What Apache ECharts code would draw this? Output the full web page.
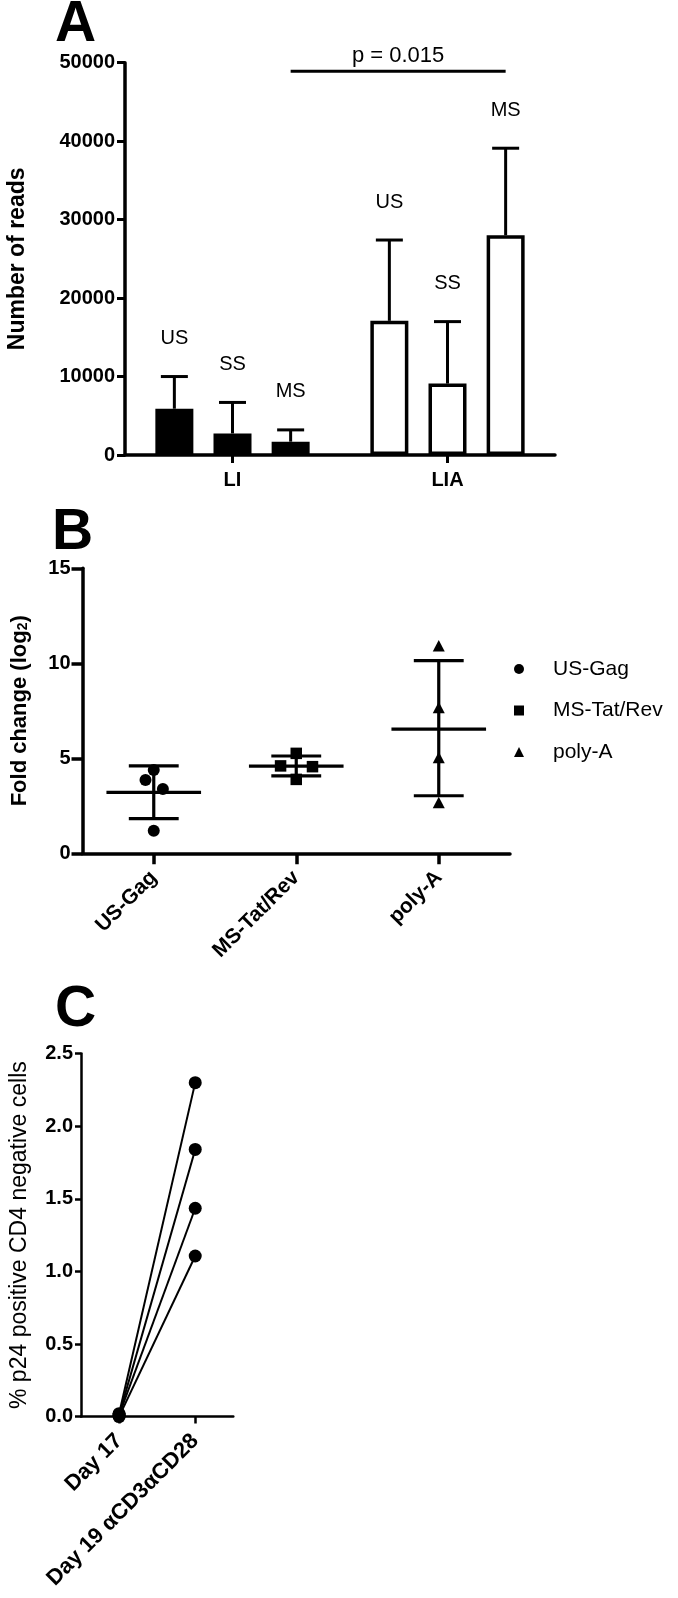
<!DOCTYPE html>
<html>
<head>
<meta charset="utf-8">
<script src="https://cdn.jsdelivr.net/npm/echarts@6/dist/echarts.min.js"></script>
<style>
html,body{margin:0;padding:0;background:#fff;}
#chart{width:678px;height:1598px;}
</style>
</head>
<body>
<div id="chart"></div>
<script>
// ---------- Panel A data ----------
const readsCategories = ['LI', 'LIA'];
const readsSubtypes = ['US', 'SS', 'MS'];
const readsUS = [5900, 17100];
const readsSS = [2750, 9100];
const readsMS = [1700, 28000];
const readsUSErrTop = [10000, 27400];
const readsSSErrTop = [6700, 17000];
const readsMSErrTop = [3200, 39100];
const readsTicks = [0, 10000, 20000, 30000, 40000, 50000];
const pValueText = 'p = 0.015';
const pValueLevel = 48900;
const pValuePair = ['LI', 'LIA'];
const pValueSubtype = 'MS';

// ---------- Panel B data ----------
const foldCategories = ['US-Gag', 'MS-Tat/Rev', 'poly-A'];
const foldUSGag = [4.39, 3.86, 3.38, 1.19];
const foldMSTatRev = [5.26, 4.60, 4.56, 3.89];
const foldPolyA = [10.88, 7.63, 5.00, 2.63];
const foldUSGagJitter = [0, -0.058, 0.064, 0];
const foldMSTatRevJitter = [0, -0.11, 0.114, 0];
const foldPolyAJitter = [0, 0, 0, 0];
const foldMean = [3.21, 4.59, 6.54];
const foldSDHigh = [4.60, 5.12, 10.14];
const foldSDLow = [1.82, 4.07, 3.03];
const foldTicks = [0, 5, 10, 15];

// ---------- Panel C data ----------
const p24Categories = ['Day 17', 'Day 19 αCD3αCD28'];
const p24Day17 = [0.02, 0.01, 0.01, 0.0];
const p24Day19 = [2.30, 1.84, 1.435, 1.106];
const p24Ticks = [0, 0.5, 1.0, 1.5, 2.0, 2.5];

// ---------- styling constants ----------
const FONT = 'Arial, "Liberation Sans", Helvetica, sans-serif';
const BAR_W = 38;
const BAR_GAP_PCT = 53;
const ERR_CAP = 27;
const MEAN_FRAC = 0.664;
const SD_CAP_FRAC = 0.35;

const chart = echarts.init(document.getElementById('chart'), null, {renderer: 'canvas'});

const readsValues = [readsUS, readsSS, readsMS];
const readsErrTops = [readsUSErrTop, readsSSErrTop, readsMSErrTop];

function barOffset(i) {
  return (i - (readsSubtypes.length - 1) / 2) * BAR_W * (1 + BAR_GAP_PCT / 100);
}

function axisCommon(w) {
  return {show: true, onZero: false, lineStyle: {color: '#000', width: w}};
}
function tickCommon(len, w, align) {
  return {show: true, alignWithLabel: !!align, length: len, lineStyle: {color: '#000', width: w}};
}
function labelCommon(size, margin, extra) {
  return Object.assign({color: '#000', fontSize: size, fontWeight: 'bold', fontFamily: FONT, margin: margin}, extra || {});
}

const series = [];

// Panel A bars
readsSubtypes.forEach((sub, i) => {
  series.push({
    type: 'bar', name: sub, xAxisIndex: 0, yAxisIndex: 0,
    barWidth: BAR_W, barGap: BAR_GAP_PCT + '%',
    itemStyle: {borderColor: '#000', borderWidth: 3.5},
    data: readsValues[i].map((v, ci) => ({value: v, itemStyle: {color: ci === 0 ? '#000' : '#fff'}})),
    silent: true, z: 2
  });
});
// Panel A error bars + labels
readsSubtypes.forEach((sub, i) => {
  series.push({
    type: 'custom', name: sub + ' err', xAxisIndex: 0, yAxisIndex: 0, z: 3, silent: true,
    encode: {x: 0, y: 1},
    data: readsCategories.map((c, ci) => [ci, readsValues[i][ci], readsErrTops[i][ci]]),
    renderItem: function (params, api) {
      const base = api.coord([api.value(0), api.value(1)]);
      const top = api.coord([api.value(0), api.value(2)]);
      const x = base[0] + barOffset(i);
      return {type: 'group', children: [
        {type: 'line', shape: {x1: x, y1: base[1], x2: x, y2: top[1]}, style: {stroke: '#000', lineWidth: 3}},
        {type: 'line', shape: {x1: x - ERR_CAP / 2, y1: top[1], x2: x + ERR_CAP / 2, y2: top[1]}, style: {stroke: '#000', lineWidth: 3}},
        {type: 'text', style: {text: sub, x: x, y: top[1] - 38, align: 'center', verticalAlign: 'middle',
          fontSize: 20, fontFamily: FONT, fill: '#000'}}
      ]};
    }
  });
});
// Panel A p-value bracket
series.push({
  type: 'custom', name: 'pvalue', xAxisIndex: 0, yAxisIndex: 0, z: 3, silent: true,
  encode: {x: 0, y: 1},
  data: [[readsCategories.indexOf(pValuePair[0]), pValueLevel, readsCategories.indexOf(pValuePair[1])]],
  renderItem: function (params, api) {
    const off = barOffset(readsSubtypes.indexOf(pValueSubtype));
    const p1 = api.coord([api.value(0), api.value(1)]);
    const p2 = api.coord([api.value(2), api.value(1)]);
    const x1 = p1[0] + off, x2 = p2[0] + off, y = p1[1];
    return {type: 'group', children: [
      {type: 'line', shape: {x1: x1, y1: y, x2: x2, y2: y}, style: {stroke: '#000', lineWidth: 3}},
      {type: 'text', style: {text: pValueText, x: (x1 + x2) / 2, y: y - 4, align: 'center', verticalAlign: 'bottom',
        fontSize: 22, fontFamily: FONT, fill: '#000'}}
    ]};
  }
});

// Panel B points
function markShape(shape, cx, cy) {
  if (shape === 'circle') return {type: 'circle', shape: {cx: cx, cy: cy, r: 6}, style: {fill: '#000'}};
  if (shape === 'rect') return {type: 'rect', shape: {x: cx - 5.75, y: cy - 5.75, width: 11.5, height: 11.5}, style: {fill: '#000'}};
  return {type: 'polygon', shape: {points: [[cx, cy - 6.5], [cx + 6, cy + 5], [cx - 6, cy + 5]]}, style: {fill: '#000'}};
}
const foldGroups = [
  {name: 'US-Gag', values: foldUSGag, jitter: foldUSGagJitter, shape: 'circle'},
  {name: 'MS-Tat/Rev', values: foldMSTatRev, jitter: foldMSTatRevJitter, shape: 'rect'},
  {name: 'poly-A', values: foldPolyA, jitter: foldPolyAJitter, shape: 'triangle'}
];
foldGroups.forEach((g, gi) => {
  series.push({
    type: 'custom', name: g.name, xAxisIndex: 1, yAxisIndex: 1, z: 3, silent: true,
    itemStyle: {color: '#000'},
    encode: {x: 0, y: 1},
    data: g.values.map((v, k) => [gi, v, g.jitter[k]]),
    renderItem: function (params, api) {
      const band = api.size([1, 0])[0];
      const p = api.coord([api.value(0), api.value(1)]);
      return markShape(g.shape, p[0] + api.value(2) * band, p[1]);
    }
  });
});
// Panel B mean +/- SD
series.push({
  type: 'custom', name: 'meanSD', xAxisIndex: 1, yAxisIndex: 1, z: 4, silent: true,
  encode: {x: 0, y: 1},
  data: foldCategories.map((c, ci) => [ci, foldMean[ci], foldSDHigh[ci], foldSDLow[ci]]),
  renderItem: function (params, api) {
    const band = api.size([1, 0])[0];
    const m = api.coord([api.value(0), api.value(1)]);
    const hi = api.coord([api.value(0), api.value(2)]);
    const lo = api.coord([api.value(0), api.value(3)]);
    const x = m[0], mw = band * MEAN_FRAC / 2, cw = band * SD_CAP_FRAC / 2;
    const st = {stroke: '#000', lineWidth: 3.2};
    return {type: 'group', children: [
      {type: 'line', shape: {x1: x - mw, y1: m[1], x2: x + mw, y2: m[1]}, style: st},
      {type: 'line', shape: {x1: x, y1: hi[1], x2: x, y2: lo[1]}, style: st},
      {type: 'line', shape: {x1: x - cw, y1: hi[1], x2: x + cw, y2: hi[1]}, style: st},
      {type: 'line', shape: {x1: x - cw, y1: lo[1], x2: x + cw, y2: lo[1]}, style: st}
    ]};
  }
});

// Panel C paired lines
p24Day19.forEach((v, k) => {
  series.push({
    type: 'line', name: 'subject ' + (k + 1), xAxisIndex: 2, yAxisIndex: 2,
    data: [p24Day17[k], v],
    symbol: 'circle', symbolSize: 13, showSymbol: true,
    lineStyle: {color: '#000', width: 2}, itemStyle: {color: '#000'},
    silent: true, z: 3
  });
});

const letterStyle = {fontSize: 57, fontWeight: 'bold', color: '#000', fontFamily: FONT};

const option = {
  animation: false,
  backgroundColor: '#fff',
  textStyle: {fontFamily: FONT, color: '#000'},
  title: [
    {text: 'A', left: 55, top: -3, padding: 0, textStyle: letterStyle},
    {text: 'B', left: 52, top: 505, padding: 0, textStyle: letterStyle},
    {text: 'C', left: 55, top: 982, padding: 0, textStyle: letterStyle}
  ],
  legend: {
    data: [
      {name: 'US-Gag', icon: 'circle', itemStyle: {color: '#000'}},
      {name: 'MS-Tat/Rev', icon: 'rect', itemStyle: {color: '#000'}},
      {name: 'poly-A', icon: 'triangle', itemStyle: {color: '#000'}}
    ],
    orient: 'vertical', left: 514, top: 658, padding: 0,
    itemWidth: 10, itemHeight: 10, itemGap: 19.5,
    selectedMode: false,
    formatter: name => '{g|}' + name,
    textStyle: {fontSize: 21, lineHeight: 22, color: '#000', fontFamily: FONT,
      rich: {g: {width: 24}}}
  },
  grid: [
    {left: 125, top: 62.7, width: 430, height: 392.3, containLabel: false, outerBoundsMode: 'none'},
    {left: 82.5, top: 568.3, width: 427.5, height: 285, containLabel: false, outerBoundsMode: 'none'},
    {left: 81, top: 1053.6, width: 152.3, height: 363, containLabel: false, outerBoundsMode: 'none'}
  ],
  xAxis: [
    {type: 'category', gridIndex: 0, data: readsCategories,
      axisLine: axisCommon(3.5), axisTick: tickCommon(8, 3, true),
      axisLabel: labelCommon(20, 15), splitLine: {show: false}},
    {type: 'category', gridIndex: 1, data: foldCategories,
      axisLine: axisCommon(3.5), axisTick: tickCommon(11, 3.5, true),
      axisLabel: labelCommon(21, 21, {rotate: 45}), splitLine: {show: false}},
    {type: 'category', gridIndex: 2, data: p24Categories,
      axisLine: axisCommon(2.5), axisTick: tickCommon(7, 2.5, true),
      axisLabel: labelCommon(22, 21, {rotate: 45}), splitLine: {show: false}}
  ],
  yAxis: [
    {type: 'value', gridIndex: 0, min: readsTicks[0], max: readsTicks[readsTicks.length - 1],
      interval: readsTicks[1] - readsTicks[0],
      axisLine: axisCommon(3.5), axisTick: tickCommon(8, 3),
      axisLabel: labelCommon(20, 10, {formatter: v => String(v)}),
      splitLine: {show: false},
      name: 'Number of reads', nameLocation: 'middle', nameGap: 96,
      nameTextStyle: {color: '#000', fontSize: 23, fontWeight: 'bold', fontFamily: FONT}},
    {type: 'value', gridIndex: 1, min: foldTicks[0], max: foldTicks[foldTicks.length - 1],
      interval: foldTicks[1] - foldTicks[0],
      axisLine: axisCommon(3.5), axisTick: tickCommon(11, 3.5),
      axisLabel: labelCommon(20, 12, {formatter: v => String(v)}),
      splitLine: {show: false},
      name: 'Fold change (log{sub|2})', nameLocation: 'middle', nameGap: 52,
      nameTextStyle: {color: '#000', fontSize: 22, fontWeight: 'bold', fontFamily: FONT,
        rich: {sub: {fontSize: 14, fontWeight: 'bold', fontFamily: FONT, color: '#000', verticalAlign: 'bottom', lineHeight: 14}}}},
    {type: 'value', gridIndex: 2, min: p24Ticks[0], max: p24Ticks[p24Ticks.length - 1],
      interval: p24Ticks[1] - p24Ticks[0],
      axisLine: axisCommon(2.5), axisTick: tickCommon(6, 2.5),
      axisLabel: labelCommon(20, 8, {formatter: v => v.toFixed(1)}),
      splitLine: {show: false},
      name: '% p24 positive CD4 negative cells', nameLocation: 'middle', nameGap: 50,
      nameTextStyle: {color: '#000', fontSize: 23, fontWeight: 'normal', fontFamily: FONT}}
  ],
  series: series
};
chart.setOption(option);
</script>
</body>
</html>
